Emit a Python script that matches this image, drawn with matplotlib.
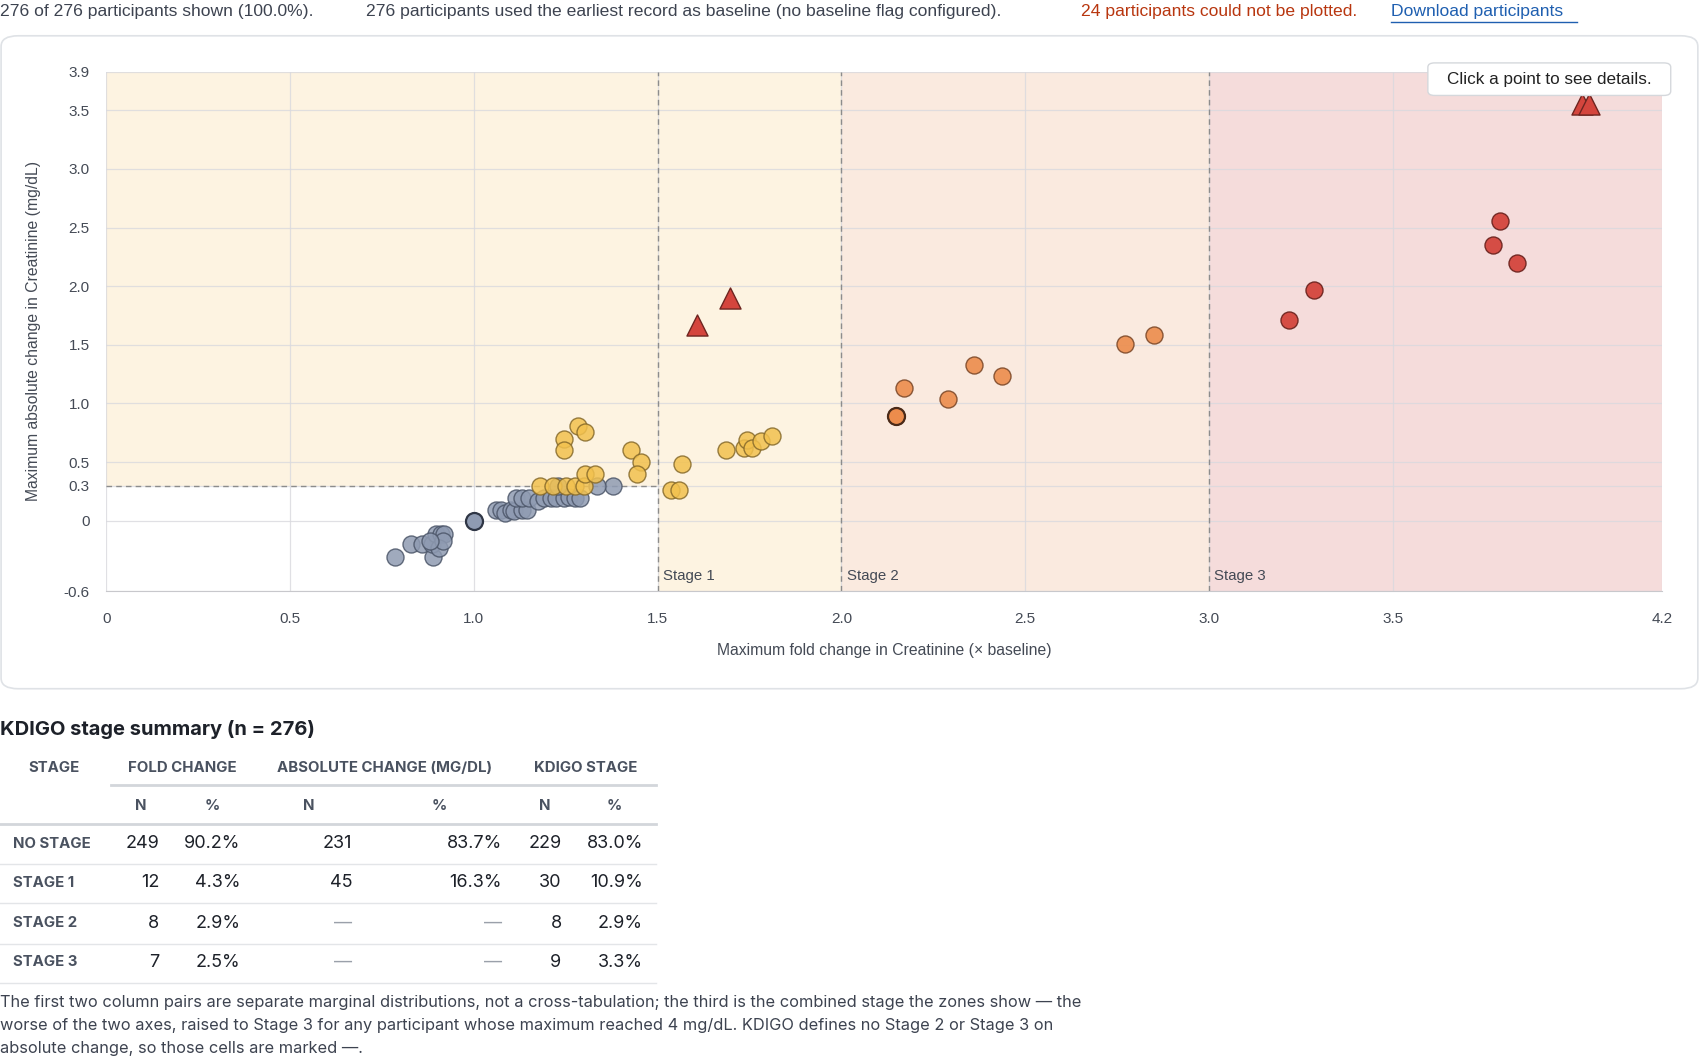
import matplotlib
matplotlib.use("Agg")
import matplotlib.pyplot as plt
from matplotlib.patches import FancyBboxPatch, Rectangle

plt.rcParams['font.family'] = ['Liberation Sans', 'DejaVu Sans']

# ---- data ----
gray_x = [0.785, 0.83, 0.86, 0.89, 0.885, 0.897, 0.91, 0.92, 0.905, 0.915, 0.88,
          1.06, 1.075, 1.085, 1.1, 1.11, 1.13, 1.145,
          1.115, 1.13, 1.15, 1.175, 1.19, 1.21, 1.225, 1.245, 1.26, 1.275, 1.29,
          1.38, 1.335, 1.23]
gray_y = [-0.31, -0.20, -0.20, -0.31, -0.20, -0.11, -0.11, -0.11, -0.23, -0.17, -0.17,
          0.09, 0.09, 0.07, 0.09, 0.08, 0.09, 0.09,
          0.19, 0.19, 0.19, 0.17, 0.19, 0.19, 0.19, 0.19, 0.2, 0.19, 0.19,
          0.3, 0.3, 0.3]
dark_x = [1.0]
dark_y = [0.0]
yellow_x = [1.18, 1.215, 1.25, 1.275, 1.3, 1.303, 1.33, 1.245, 1.245, 1.283, 1.303,
            1.427, 1.454, 1.445, 1.567, 1.537, 1.558, 1.685, 1.735, 1.743, 1.758, 1.782, 1.811]
yellow_y = [0.3, 0.3, 0.3, 0.3, 0.3, 0.4, 0.4, 0.7, 0.6, 0.81, 0.76,
            0.6, 0.5, 0.4, 0.48, 0.26, 0.26, 0.6, 0.62, 0.69, 0.62, 0.68, 0.72]
orange_x = [2.148, 2.17, 2.29, 2.36, 2.437, 2.773, 2.85]
orange_y = [0.89, 1.13, 1.04, 1.33, 1.23, 1.51, 1.58]
orange_dark_x = [2.148]
orange_dark_y = [0.89]
red_x = [3.218, 3.286, 3.793, 3.773, 3.838]
red_y = [1.71, 1.97, 2.56, 2.35, 2.20]
tri_x = [1.608, 1.696, 4.015, 4.035]
tri_y = [1.67, 1.90, 3.55, 3.55]

yticks = [-0.6, 0, 0.3, 0.5, 1.0, 1.5, 2.0, 2.5, 3.0, 3.5, 3.83]
ytick_labels = ["-0.6", "0", "0.3", "0.5", "1.0", "1.5", "2.0", "2.5", "3.0", "3.5", "3.9"]
xticks = [0, 0.5, 1.0, 1.5, 2.0, 2.5, 3.0, 3.5, 4.233]
xtick_labels = ["0", "0.5", "1.0", "1.5", "2.0", "2.5", "3.0", "3.5", "4.2"]

table_cols = ["STAGE", "N", "%", "N", "%", "N", "%"]
stages = ["NO STAGE", "STAGE 1", "STAGE 2", "STAGE 3"]
fold_n = ["249", "12", "8", "7"]
fold_p = ["90.2%", "4.3%", "2.9%", "2.5%"]
abs_n = ["231", "45", "—", "—"]
abs_p = ["83.7%", "16.3%", "—", "—"]
kd_n = ["229", "30", "8", "9"]
kd_p = ["83.0%", "10.9%", "2.9%", "3.3%"]

W, H = 1568.0, 981.0
def fx(p): return p / W
def fy(p): return 1 - p / H

fig = plt.figure(figsize=(17, 10.64), dpi=100)
fig.patch.set_facecolor('white')

TXT = '#3d4350'
cs = 12.6
fig.text(fx(0), fy(11), "276 of 276 participants shown (100.0%).", fontsize=cs, color=TXT, va='center')
fig.text(fx(338), fy(11), "276 participants used the earliest record as baseline (no baseline flag configured).",
         fontsize=cs, color=TXT, va='center')
fig.text(fx(997), fy(11), "24 participants could not be plotted.", fontsize=cs, color='#b8360f', va='center')
fig.text(fx(1283), fy(11), "Download participants", fontsize=cs, color='#1f5fb0', va='center')
fig.add_artist(plt.Line2D([fx(1283), fx(1455)], [fy(20), fy(20)], color='#1f5fb0', lw=1.0))

card = FancyBboxPatch((fx(1), fy(635)), fx(1565), (635 - 33) / H,
                      boxstyle="round,pad=0,rounding_size=0.01", transform=fig.transFigure,
                      facecolor='white', edgecolor='#dfe2e6', lw=1.2, zorder=-5)
fig.patches.append(card)

XMAX, YMIN, YMAX = 4.233, -0.6, 3.83
ax = fig.add_axes([fx(98), fy(545), fx(1533 - 98), (545 - 66) / H])
ax.set_zorder(2)
ax.patch.set_alpha(0)
ax.set_xlim(0, XMAX)
ax.set_ylim(YMIN, YMAX)
ax.add_patch(Rectangle((0, 0.3), 1.5, YMAX - 0.3, facecolor='#fdf3e1', edgecolor='none', zorder=0))
ax.add_patch(Rectangle((1.5, YMIN), 0.5, YMAX - YMIN, facecolor='#fdf3e1', edgecolor='none', zorder=0))
ax.add_patch(Rectangle((2.0, YMIN), 1.0, YMAX - YMIN, facecolor='#faeadf', edgecolor='none', zorder=0))
ax.add_patch(Rectangle((3.0, YMIN), XMAX - 3.0, YMAX - YMIN, facecolor='#f5dcdb', edgecolor='none', zorder=0))
for v in xticks:
    ax.axvline(v, color='#d9d9de', lw=0.9, alpha=0.8, zorder=1)
for v in yticks:
    ax.axhline(v, color='#d9d9de', lw=0.9, alpha=0.8, zorder=1)
for v in [1.5, 2.0, 3.0]:
    ax.axvline(v, color='#8c8c8c', lw=1.0, ls=(0, (4, 3)), zorder=2)
ax.plot([0, 1.5], [0.3, 0.3], color='#8c8c8c', lw=1.0, ls=(0, (4, 3)), zorder=2)
for v, lab in [(1.5, "Stage 1"), (2.0, "Stage 2"), (3.0, "Stage 3")]:
    ax.text(v + 0.015, -0.47, lab, fontsize=10.8, color='#444a55', va='center', zorder=3)

kw = dict(s=150, linewidths=1.0, zorder=4)
ax.scatter(gray_x, gray_y, c='#8f9bb2', edgecolors='#4b5568', alpha=0.85, **kw)
ax.scatter(dark_x, dark_y, c='#8f9bb2', edgecolors='#2f3645', s=150, linewidths=1.6, zorder=4)
ax.scatter(yellow_x, yellow_y, c='#f2c14e', edgecolors='#85692a', alpha=0.85, **kw)
ax.scatter(orange_x, orange_y, c='#ec8c4c', edgecolors='#7e4a2a', alpha=0.9, **kw)
ax.scatter(orange_dark_x, orange_dark_y, c='#ec8c4c', edgecolors='#4a2a18', s=150, linewidths=1.6, zorder=4)
ax.scatter(red_x, red_y, c='#d4453d', edgecolors='#6e2520', alpha=0.95, **kw)
ax.scatter(tri_x, tri_y, marker='^', c='#d4453d', edgecolors='#6e2520', s=230, linewidths=1.0, zorder=5)

ax.set_xticks(xticks)
ax.set_xticklabels(xtick_labels)
ax.set_yticks(yticks)
ax.set_yticklabels(ytick_labels)
ax.tick_params(length=0, labelsize=11, labelcolor='#444a55')
ax.tick_params(axis='x', pad=15)
ax.tick_params(axis='y', pad=12)
for s in ax.spines.values():
    s.set_visible(False)
ax.spines['bottom'].set_visible(True)
ax.spines['bottom'].set_color('#c8c8cc')
ax.set_xlabel("Maximum fold change in Creatinine (× baseline)", fontsize=11.3, color='#444a55', labelpad=12)
ax.set_ylabel("Maximum absolute change in Creatinine (mg/dL)", fontsize=11.3, color='#444a55', labelpad=16)

fig.add_artist(FancyBboxPatch((fx(1317), fy(88)), fx(224), 30 / H,
                              boxstyle="round,pad=0,rounding_size=0.004", transform=fig.transFigure,
                              facecolor='white', edgecolor='#d5d8dc', lw=1.0, zorder=10))
fig.text(fx(1429), fy(73), "Click a point to see details.", fontsize=12.3, color='#222', ha='center', va='center', zorder=11)

HF = ['Inter', 'DejaVu Sans']
fig.text(fx(0), fy(673), "KDIGO stage summary (n = 276)", fontsize=14.5, fontweight='bold',
         color='#1d2129', va='center', family=HF)
hc = '#4a5260'
hs = 10.8
fig.text(fx(50), fy(708), "STAGE", fontsize=hs, fontweight='bold', color=hc, ha='center', va='center', family=HF)
fig.text(fx(168), fy(708), "FOLD CHANGE", fontsize=hs, fontweight='bold', color=hc, ha='center', va='center', family=HF)
fig.text(fx(355), fy(708), "ABSOLUTE CHANGE (MG/DL)", fontsize=hs, fontweight='bold', color=hc, ha='center', va='center', family=HF)
fig.text(fx(540), fy(708), "KDIGO STAGE", fontsize=hs, fontweight='bold', color=hc, ha='center', va='center', family=HF)
fig.add_artist(plt.Line2D([fx(102), fx(605)], [fy(724), fy(724)], color='#d3d6db', lw=2))
sub_x = [130, 196, 285, 405, 502, 567]
for x, lab in zip(sub_x, table_cols[1:]):
    fig.text(fx(x), fy(743), lab, fontsize=hs, fontweight='bold', color=hc,
             ha='center', va='center', family=HF)
fig.add_artist(plt.Line2D([fx(0), fx(605)], [fy(760), fy(760)], color='#d3d6db', lw=2))
row_y = [778, 814, 851, 887]
right_x = [147, 222, 325, 463, 518, 593]
for i, y in enumerate(row_y):
    fig.text(fx(12), fy(y), stages[i], fontsize=hs, fontweight='bold', color=hc, va='center', family=HF)
    vals = [fold_n[i], fold_p[i], abs_n[i], abs_p[i], kd_n[i], kd_p[i]]
    for x, v in zip(right_x, vals):
        col = '#9aa0aa' if v == "—" else '#1d2129'
        fig.text(fx(x), fy(y), v, fontsize=13, color=col, ha='right', va='center', family=HF)
    fig.add_artist(plt.Line2D([fx(0), fx(605)], [fy(y + 19), fy(y + 19)], color='#e3e5e8', lw=1))

note = ("The first two column pairs are separate marginal distributions, not a cross-tabulation; the third is the combined stage the zones show — the\n"
        "worse of the two axes, raised to Stage 3 for any participant whose maximum reached 4 mg/dL. KDIGO defines no Stage 2 or Stage 3 on\n"
        "absolute change, so those cells are marked —.")
fig.text(fx(0), fy(917), note, fontsize=11.8, color='#3d4350', va='top', linespacing=1.7, family=HF)

fig.savefig("out.png", dpi=100, facecolor='white')
